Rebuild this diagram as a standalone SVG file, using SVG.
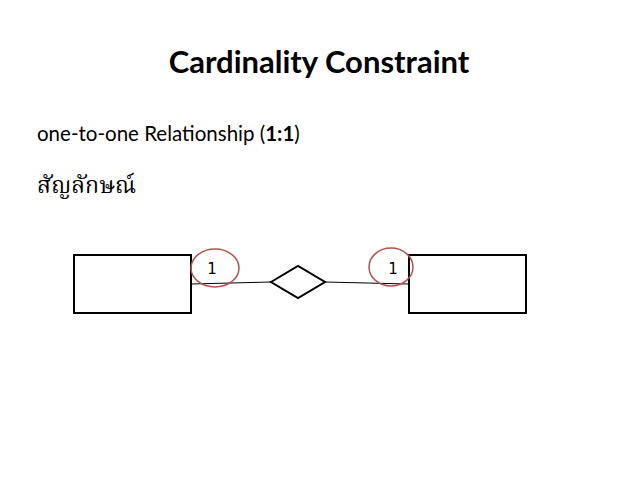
<svg xmlns="http://www.w3.org/2000/svg" width="638" height="479" viewBox="0 0 638 479">
<style>
.ent{fill:#fff;stroke:#000;stroke-width:2}
.card{fill:none;stroke:#b5534f;stroke-width:1.5}
.lbl{font-family:"DejaVu Sans",sans-serif;font-size:15px;fill:#000}
.ln{stroke:#000;stroke-width:1}
</style>
<rect width="638" height="479" fill="#fff"/>
<text x="319" y="73" text-anchor="middle" font-family="Lato,'Liberation Sans',sans-serif" font-weight="bold" font-size="31">Cardinality Constraint</text>
<text x="37" y="141" font-family="Lato,'Liberation Sans',sans-serif" font-size="20.5">one-to-one Relationship (<tspan font-weight="bold">1:1</tspan>)</text>
<text x="37" y="193" font-family="'Noto Serif Thai','Noto Sans Thai','DejaVu Sans',sans-serif" font-size="23">สัญลักษณ์</text>
<g id="connectors">
<line class="ln" x1="191" y1="284" x2="271" y2="282"/>
<line class="ln" x1="325" y1="282" x2="409" y2="284"/>
</g>
<g id="entityA"><rect class="ent" x="74" y="255" width="117" height="58"/></g>
<g id="entityB"><rect class="ent" x="409" y="255" width="117" height="58"/></g>
<g id="relationship"><polygon class="ent" points="271,282 298,266 325,282 298,298"/></g>
<g id="cardA"><ellipse class="card" cx="215" cy="268" rx="24" ry="19"/><text class="lbl" x="212" y="274" text-anchor="middle">1</text></g>
<g id="cardB"><ellipse class="card" cx="391" cy="267" rx="22" ry="19"/><text class="lbl" x="393" y="274" text-anchor="middle">1</text></g>
</svg>
